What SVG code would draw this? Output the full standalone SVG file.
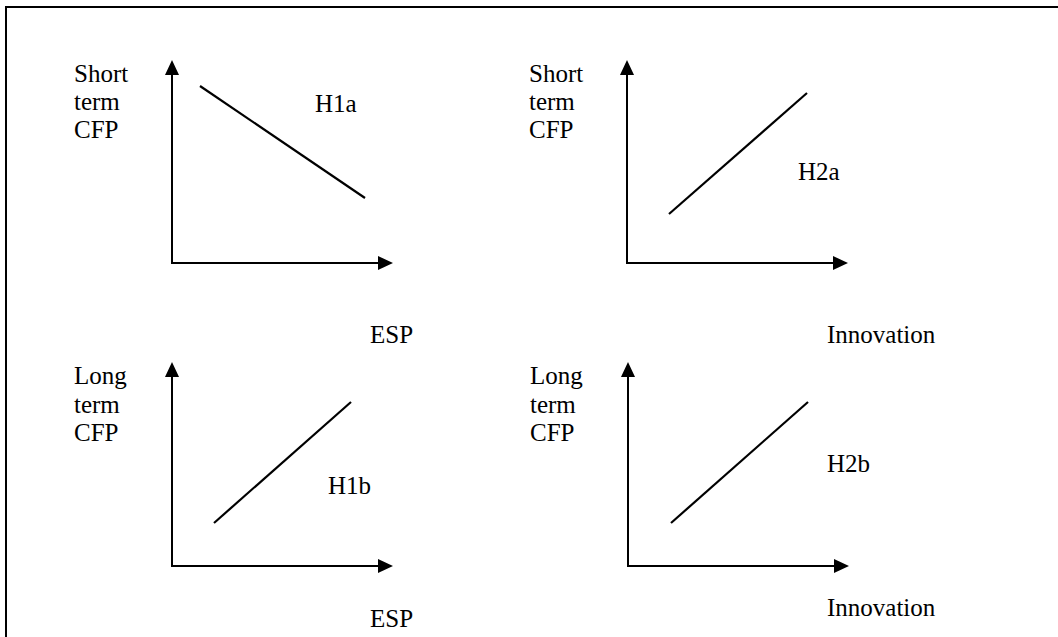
<svg xmlns="http://www.w3.org/2000/svg" width="1058" height="637" viewBox="0 0 1058 637">
<style>
text{font-family:"Liberation Serif","Times New Roman",serif;font-size:25px;fill:#000}
.ax{stroke:#000;stroke-width:2;fill:none}
.ln{stroke:#000;stroke-width:2.2;fill:none}
.ah{fill:#000}
</style>
<rect width="1058" height="637" fill="#fff"/>
<path d="M6,637 V7 H1058" stroke="#000" stroke-width="2" fill="none"/>
<g id="connectors">
<path class="ax" d="M172,74 V263 H379"/>
<path class="ah" d="M172,60 L165,75 L179,75 Z"/>
<path class="ah" d="M393,263 L378,256 L378,270 Z"/>
<path class="ax" d="M627,74 V263 H834"/>
<path class="ah" d="M627,60 L620,75 L634,75 Z"/>
<path class="ah" d="M848,263 L833,256 L833,270 Z"/>
<path class="ax" d="M172,376 V566 H379"/>
<path class="ah" d="M172,362 L165,377 L179,377 Z"/>
<path class="ah" d="M393,566 L378,559 L378,573 Z"/>
<path class="ax" d="M628,376 V566 H835"/>
<path class="ah" d="M628,362 L621,377 L635,377 Z"/>
<path class="ah" d="M849,566 L834,559 L834,573 Z"/>
<line class="ln" x1="200" y1="86" x2="365" y2="198"/>
<line class="ln" x1="669" y1="214" x2="807" y2="93"/>
<line class="ln" x1="214" y1="523" x2="351" y2="402"/>
<line class="ln" x1="671" y1="523" x2="808" y2="402"/>
</g>
<g id="chart-h1a">
<text x="74" y="82">Short</text>
<text x="74" y="110">term</text>
<text x="74" y="138">CFP</text>
<text x="315" y="112">H1a</text>
<text x="370" y="343">ESP</text>
</g>
<g id="chart-h2a">
<text x="529" y="82">Short</text>
<text x="529" y="110">term</text>
<text x="529" y="138">CFP</text>
<text x="798" y="180">H2a</text>
<text x="827" y="343">Innovation</text>
</g>
<g id="chart-h1b">
<text x="74" y="384">Long</text>
<text x="74" y="413">term</text>
<text x="74" y="441">CFP</text>
<text x="328" y="494">H1b</text>
<text x="370" y="627">ESP</text>
</g>
<g id="chart-h2b">
<text x="530" y="384">Long</text>
<text x="530" y="413">term</text>
<text x="530" y="441">CFP</text>
<text x="827" y="472">H2b</text>
<text x="827" y="616">Innovation</text>
</g>
</svg>
